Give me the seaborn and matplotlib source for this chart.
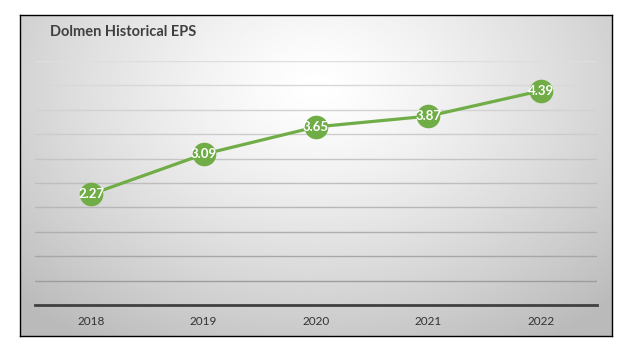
import numpy as np
import pandas as pd
import matplotlib
matplotlib.use("Agg")
import matplotlib.pyplot as plt
import seaborn as sns

years = ["2018", "2019", "2020", "2021", "2022"]
eps = [2.27, 3.09, 3.65, 3.87, 4.39]
title = "Dolmen Historical EPS"

sns.set_theme(style="white")
plt.rcParams["font.family"] = ["Lato", "DejaVu Sans"]

W, H = 638, 353
fig = plt.figure(figsize=(W / 100, H / 100), dpi=100)
fig.patch.set_facecolor("white")

# chart box with radial grey gradient
bx0, by0, bx1, by1 = 20, 15, 612, 336
bg = fig.add_axes([bx0 / W, 1 - by1 / H, (bx1 - bx0) / W, (by1 - by0) / H])
gx, gy = np.meshgrid(np.linspace(0, 1, 300), np.linspace(0, 1, 200))
d = np.sqrt(((gx - 0.5) / 0.75) ** 2 + ((gy - 0.22) / 1.0) ** 2)
shade = 1.0 - 0.27 * np.clip(d / 0.95, 0, 1) ** 1.3
bg.imshow(shade, cmap="gray", vmin=0, vmax=1, aspect="auto",
          extent=[0, 1, 1, 0], interpolation="bilinear")
bg.set_xticks([])
bg.set_yticks([])
for s in bg.spines.values():
    s.set_color("black")
    s.set_linewidth(1.0)

# plot area
px0, py0, px1, py1 = 35, 61, 597, 305
ax = fig.add_axes([px0 / W, 1 - py1 / H, (px1 - px0) / W, (py1 - py0) / H])
ax.patch.set_alpha(0)

df = pd.DataFrame({"year": years, "eps": eps})
df["pos"] = range(len(years))
sns.lineplot(data=df, x="pos", y="eps", ax=ax, color="#70AD47", linewidth=2.3,
             marker="o", markersize=17, markeredgewidth=0, zorder=5)

ax.set_xlim(-0.5, len(years) - 0.5)
ax.set_ylim(0, 5)
ax.set_xticks(df["pos"])
ax.set_xticklabels(years, fontsize=8.5, color="#333333")
ax.tick_params(axis="x", length=0, pad=8)
ax.tick_params(axis="y", length=0, labelleft=False)
ax.set_yticks([])
ax.set_xlabel("")
ax.set_ylabel("")

# horizontal gridlines, lighter toward the top
for yv in np.arange(0.5, 5.01, 0.5):
    t = yv / 5.0
    c = 0.55 + 0.32 * t ** 0.7
    ax.axhline(yv, color=(c, c, c), linewidth=1.0, zorder=1)

for s in ["top", "right", "left"]:
    ax.spines[s].set_visible(False)
ax.spines["bottom"].set_color("#404040")
ax.spines["bottom"].set_linewidth(2.0)

for x, v in zip(df["pos"], eps):
    ax.text(x, v, f"{v:.2f}", ha="center", va="center", color="white",
            fontsize=9.5, fontweight="bold", zorder=6)

fig.text(50 / W, 1 - 32 / H, title, ha="left", va="center", fontsize=10.5,
         fontweight="bold", color="#404040")

fig.savefig("out.png", dpi=100)
